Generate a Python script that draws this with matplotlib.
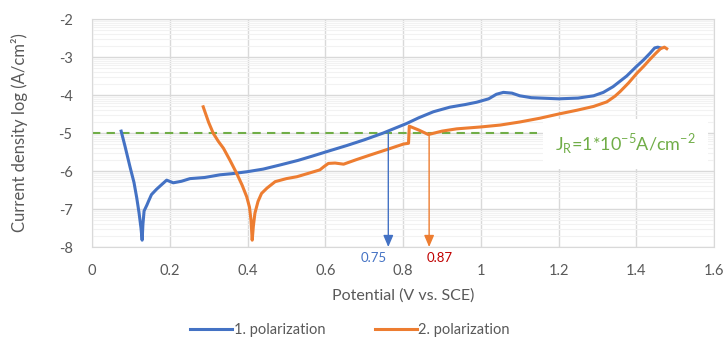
import numpy as np
import matplotlib
matplotlib.use("Agg")
import matplotlib.pyplot as plt

plt.rcParams["font.family"] = ["Lato", "DejaVu Sans"]
plt.rcParams["axes.unicode_minus"] = False

# 1. polarization
pol1_x = [0.075, 0.085, 0.098, 0.108, 0.115, 0.121, 0.126, 0.129, 0.131, 0.134, 0.141,
          0.146, 0.153, 0.166, 0.18, 0.192, 0.209, 0.23, 0.252, 0.29, 0.329, 0.36, 0.398,
          0.44, 0.484, 0.53, 0.569, 0.61, 0.655, 0.70, 0.749, 0.78, 0.809, 0.84, 0.878,
          0.92, 0.96, 0.989, 1.02, 1.04, 1.058, 1.08, 1.10, 1.13, 1.2, 1.25, 1.29, 1.315,
          1.34, 1.375, 1.40, 1.418, 1.435, 1.447, 1.455, 1.462]
pol1_y = [-4.95, -5.35, -5.90, -6.30, -6.70, -7.10, -7.50, -7.82, -7.40, -7.05, -6.90,
          -6.78, -6.62, -6.48, -6.35, -6.24, -6.31, -6.27, -6.20, -6.17, -6.10, -6.07, -6.02,
          -5.95, -5.84, -5.72, -5.60, -5.47, -5.33, -5.18, -5.00, -4.87, -4.75, -4.60, -4.44,
          -4.32, -4.25, -4.19, -4.10, -3.98, -3.93, -3.95, -4.02, -4.07, -4.10, -4.08, -4.02, -3.93,
          -3.78, -3.50, -3.25, -3.08, -2.90, -2.76, -2.74, -2.76]

# 2. polarization
pol2_x = [0.286, 0.30, 0.312, 0.325, 0.338, 0.355, 0.372, 0.386, 0.398, 0.405, 0.409,
          0.412, 0.415, 0.419, 0.427, 0.436, 0.45, 0.471, 0.50, 0.527, 0.56, 0.586, 0.597,
          0.608, 0.625, 0.647, 0.68, 0.715, 0.76, 0.801, 0.814, 0.816, 0.84, 0.865, 0.9,
          0.938, 1.0, 1.05, 1.10, 1.152, 1.2, 1.247, 1.29, 1.324, 1.345, 1.358, 1.38, 1.401,
          1.42, 1.435, 1.45, 1.462, 1.472, 1.478]
pol2_y = [-4.31, -4.72, -5.01, -5.22, -5.40, -5.72, -6.06, -6.37, -6.68, -6.95, -7.30,
          -7.82, -7.45, -7.11, -6.80, -6.59, -6.45, -6.28, -6.20, -6.15, -6.05, -5.97, -5.88,
          -5.80, -5.79, -5.82, -5.70, -5.58, -5.43, -5.29, -5.27, -4.82, -4.92, -5.04, -4.95,
          -4.89, -4.84, -4.79, -4.71, -4.61, -4.50, -4.40, -4.30, -4.18, -4.03, -3.91, -3.68, -3.43,
          -3.23, -3.06, -2.90, -2.78, -2.74, -2.78]

jr_level = -5
jr_x_end = 1.145
e1 = 0.762
e2 = 0.867
e1_label = "0.75"
e2_label = "0.87"

blue = "#4472C4"
orange = "#ED7D31"
green = "#70AD47"
grey = "#595959"

fig = plt.figure(figsize=(7.26, 3.4), dpi=100)
ax = fig.add_axes([0.1267, 0.2735, 0.857, 0.6705])

ax.set_xlim(0, 1.6)
ax.set_ylim(-8, -2)
ax.set_xticks(np.arange(0, 1.61, 0.2))
ax.set_xticklabels(["0", "0.2", "0.4", "0.6", "0.8", "1", "1.2", "1.4", "1.6"])
ax.set_yticks(np.arange(-8, -1.9, 1))
minor = [d + np.log10(k) for d in range(-8, -2) for k in range(2, 10)]
ax.set_yticks(minor, minor=True)
ax.grid(True, which="major", color="#D9D9D9", lw=1)
ax.grid(True, which="minor", axis="y", color="#F2F2F2", lw=0.8)
ax.set_axisbelow(True)
ax.tick_params(which="both", length=0, colors=grey, labelsize=10.5)
ax.tick_params(axis="x", pad=12)
ax.tick_params(axis="y", pad=14)
for s in ax.spines.values():
    s.set_color("#D9D9D9")

ax.plot(pol1_x, pol1_y, color=blue, lw=2.2, label="1. polarization", zorder=3)
ax.plot(pol2_x, pol2_y, color=orange, lw=2.2, label="2. polarization", zorder=3)

ax.plot([0, jr_x_end], [jr_level, jr_level], color=green, lw=1.5, dashes=(4, 3), zorder=2)

ax.annotate("", xy=(e1, -8), xytext=(e1, jr_level),
            arrowprops=dict(arrowstyle="-|>,head_width=0.3,head_length=0.7",
                            color=blue, lw=1, shrinkA=0, shrinkB=0), zorder=4)
ax.annotate("", xy=(e2, -8), xytext=(e2, jr_level),
            arrowprops=dict(arrowstyle="-|>,head_width=0.3,head_length=0.7",
                            color=orange, lw=1, shrinkA=0, shrinkB=0), zorder=4)
ax.text(0.725, -8.3, e1_label, color=blue, fontsize=9.5, ha="center", va="center", clip_on=False)
ax.text(0.893, -8.3, e2_label, color="#C00000", fontsize=9.5, ha="center", va="center", clip_on=False)

ax.text(1.372, -5.28, r"J$_\mathregular{R}$=1*10$^\mathregular{-5}$A/cm$^\mathregular{-2}$",
        color=green, fontsize=13, ha="center", va="center", zorder=5,
        bbox=dict(facecolor="white", edgecolor="none", pad=9))

ax.set_xlabel("Potential (V vs. SCE)", color=grey, fontsize=11.5, labelpad=8)
ax.set_ylabel("Current density log (A/cm²)", color=grey, fontsize=12, labelpad=22)

fig.legend(loc="center", bbox_to_anchor=(0.482, 0.03), ncol=2, frameon=False,
           fontsize=10.5, handlelength=2.9, columnspacing=3.4, handletextpad=0.1,
           labelcolor=grey)

fig.savefig("out.png", dpi=100)
